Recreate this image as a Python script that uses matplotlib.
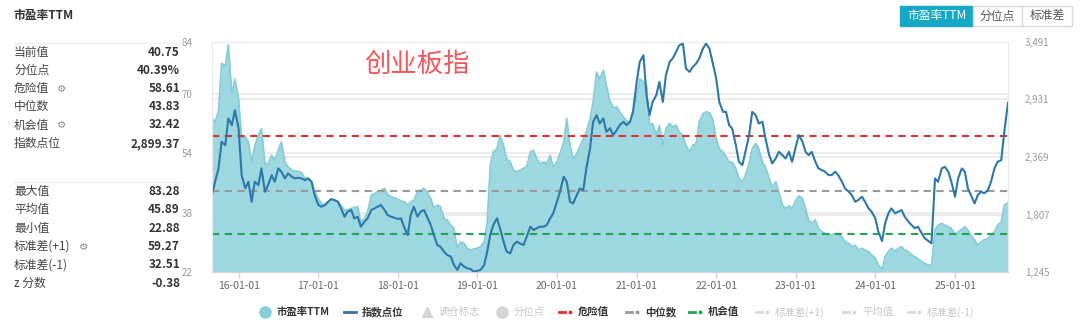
import pandas as pd
import matplotlib
matplotlib.use('Agg')
import matplotlib.pyplot as plt
import matplotlib.dates as mdates
import matplotlib.transforms as mtransforms
from matplotlib.patches import Rectangle
from matplotlib.ticker import FixedLocator, FuncFormatter

plt.rcParams['font.family'] = ['Noto Sans CJK SC', 'DejaVu Sans']

# semi-monthly samples, 2015-09 .. 2025-09
dates = pd.date_range('2015-09-01', periods=241, freq='SMS')

pe_ttm = [
    63.8, 62.3, 65.6, 78.2, 77.7, 83.3, 70.1, 74.1, 68.8, 58.0,
    58.5, 57.1, 51.7, 56.2, 58.9, 60.7, 51.3, 51.3, 53.5, 52.2,
    54.9, 57.1, 51.7, 50.4, 49.5, 49.2, 49.2, 48.9, 47.4, 47.3,
    46.4, 43.9, 41.9, 40.5, 40.3, 41.0, 41.3, 41.4, 41.0, 40.1,
    38.8,
    38.8, 39.2, 39.4, 39.7, 35.6, 36.5, 38.3, 42.8, 43.2, 43.7,
    44.1, 44.6, 43.0, 42.3, 42.1, 41.7, 41.2, 41.0, 40.1, 41.0,
    41.4, 43.7, 44.1, 44.6, 43.7, 41.9, 39.2, 40.1, 39.7, 36.5,
    36.1, 34.7, 33.8, 28.5, 30.2, 29.8, 28.5, 28.0, 28.3, 28.5,
    28.9, 30.2, 35.6, 50.9, 54.4, 55.3, 58.9, 56.2, 52.6, 51.7,
    49.5, 49.1, 49.5, 50.0, 50.4, 54.4, 54.9, 52.6, 51.3, 51.7,
    51.3, 53.5, 50.4, 51.7, 54.0, 57.1, 63.4, 56.2, 52.6, 54.0,
    55.8, 58.0, 59.8, 63.4, 67.9, 75.9, 74.1, 76.4, 72.4, 68.0,
    66.5, 66.5, 65.2, 63.8, 62.9, 62.1, 65.2, 69.7, 74.1, 73.3,
    72.4, 61.6, 62.1, 58.9, 61.6, 56.2, 60.7, 62.1, 61.2, 61.6,
    59.8, 58.9, 56.2, 54.4, 56.2, 56.7, 62.5, 64.7, 65.2, 65.0,
    63.4, 58.0, 55.3, 54.4, 53.1, 51.7, 51.7, 50.0, 47.3, 46.4,
    48.2, 51.3, 55.3, 56.7, 55.3, 51.7, 50.4, 47.3, 45.0, 46.4,
    43.7, 40.1, 39.2, 39.9, 39.2, 41.4, 42.6, 41.9, 39.2, 36.1,
    35.2, 36.1, 33.8, 32.9, 32.5, 32.0, 32.2, 32.5, 32.0, 31.6,
    30.2, 29.8, 28.9, 29.3, 28.0, 28.5, 28.0, 27.6, 26.7, 25.9,
    24.0, 22.9, 26.2, 27.6, 28.5, 27.7, 28.5, 28.9, 28.0, 27.6,
    26.7, 26.2, 25.6, 24.9, 24.4, 24.0, 23.8, 33.4, 34.7, 35.2,
    34.7, 34.3, 33.8, 32.2, 32.9, 33.6, 34.3, 33.4, 32.0, 30.7,
    29.3, 30.2, 30.7, 31.1, 32.0, 32.9, 34.7, 35.6, 40.1, 40.75,
]

index_pts = [
    1998, 2128, 2258, 2518, 2485, 2745, 2680, 2826, 2648, 2193,
    2063, 2128, 1933, 2128, 2096, 2258, 2031, 2096, 2193, 2128,
    2258, 2226, 2161, 2209, 2177, 2161, 2167, 2161, 2144, 2161,
    2128, 1998, 1901, 1885, 1901, 1933, 1959, 1950, 1933, 1868,
    1787,
    1836, 1852, 1771, 1787, 1690, 1739, 1771, 1852, 1868, 1885,
    1901, 1852, 1803, 1787, 1778, 1765, 1771, 1674, 1609, 1803,
    1885, 1787, 1836, 1852, 1787, 1706, 1609, 1511, 1495, 1446,
    1414, 1398, 1316, 1268, 1333, 1300, 1284, 1277, 1251, 1260,
    1268, 1316, 1446, 1609, 1706, 1771, 1674, 1544, 1446, 1430,
    1511, 1544, 1527, 1511, 1592, 1690, 1657, 1674, 1690, 1690,
    1706, 1771, 1820, 1933, 2031, 2177, 2128, 1933, 1917, 1998,
    2063, 2047, 2258, 2453, 2713, 2778, 2696, 2745, 2615, 2650,
    2583, 2631, 2680, 2713, 2680, 2713, 2810, 3102, 3297, 3362,
    2972, 2778, 2907, 2972, 3102, 2907, 3167, 3297, 3330, 3395,
    3459, 3476, 3232, 3200, 3248, 3281, 3330, 3427, 3476, 3427,
    3297, 3135, 2907, 2810, 2810, 2680, 2648, 2485, 2323, 2291,
    2420, 2583, 2810, 2778, 2696, 2713, 2550, 2388, 2307, 2355,
    2420, 2388, 2355, 2420, 2323, 2469, 2583, 2518, 2420, 2388,
    2420, 2323, 2258, 2242, 2226, 2193, 2193, 2226, 2193, 2128,
    2063, 2031, 1998, 1933, 1950, 1982, 1933, 1868, 1836, 1771,
    1641, 1550, 1722, 1820, 1868, 1820, 1836, 1852, 1787, 1739,
    1706, 1674, 1690, 1625, 1576, 1550, 1527, 2161, 2128, 2258,
    2274, 2226, 2128, 1982, 2161, 2258, 2226, 2063, 1998, 1917,
    1998, 2031, 2015, 2047, 2128, 2258, 2323, 2339, 2615, 2899,
]

danger, median, chance = 58.61, 43.83, 32.42
pe_ticks = [22, 38, 54, 70, 84]
idx_ticks = [1245, 1807, 2369, 2931, 3491]

stat_top_labels = ['当前值', '分位点', '危险值', '中位数', '机会值', '指数点位']
stat_top_values = ['40.75', '40.39%', '58.61', '43.83', '32.42', '2,899.37']
stat_bot_labels = ['最大值', '平均值', '最小值', '标准差(+1)', '标准差(-1)', 'z 分数']
stat_bot_values = ['83.28', '45.89', '22.88', '59.27', '32.51', '-0.38']
gear_rows = ['危险值', '机会值', '标准差(+1)']

legend_items = [
    ('市盈率TTM', 'circle', '#86d0da', True),
    ('指数点位', 'line', '#2c78a8', True),
    ('调仓标志', 'triangle', '#d4d4d4', False),
    ('分位点', 'circle', '#d4d4d4', False),
    ('危险值', 'dashdot', '#e0312e', True),
    ('中位数', 'dashdot', '#999999', True),
    ('机会值', 'dashdot', '#23a455', True),
    ('标准差(+1)', 'dashdot', '#d8d8d8', False),
    ('平均值', 'dashdot', '#d8d8d8', False),
    ('标准差(-1)', 'dashdot', '#d8d8d8', False),
]
legend_x = [265, 350, 427, 502, 566, 633, 696, 763, 850, 915]

W, H = 1080, 332
fig = plt.figure(figsize=(W / 100, H / 100), dpi=100)
fig.patch.set_facecolor('white')

L, R, T, B = 212, 1008, 42, 272.3
ax1 = fig.add_axes([L / W, 1 - B / H, (R - L) / W, (B - T) / H])
ax2 = ax1.twinx()

ax1.set_ylim(22, 84)
ax2.set_ylim(1245, 3491)
ax1.set_xlim(dates[0], dates[-1])

# grid lines for both scales, drawn behind the area
for t in pe_ticks[1:-1]:
    ax1.axhline(t, color='#ececec', lw=1.4, zorder=0)
blend = mtransforms.blended_transform_factory(ax1.transAxes, ax2.transData)
for t in idx_ticks[1:-1]:
    ax1.plot([0, 1], [t, t], transform=blend, color='#ececec', lw=1.4, zorder=0)

ax1.fill_between(dates, pe_ttm, 22, color='#9dd7df', lw=0, zorder=1)
ax1.plot(dates, pe_ttm, color='#84cdd7', lw=1.2, zorder=2)

for val, col in [(danger, '#e0312e'), (median, '#9a9a9a'), (chance, '#23a455')]:
    ax1.axhline(val, color=col, lw=1.5, ls=(0, (3.5, 2.6)), zorder=3)

ax2.plot(dates, index_pts, color='#2c78a8', lw=1.5)

ax1.yaxis.set_major_locator(FixedLocator(pe_ticks))
ax2.yaxis.set_major_locator(FixedLocator(idx_ticks))
ax2.yaxis.set_major_formatter(FuncFormatter(lambda v, p: f'{int(v):,}'))
ax1.xaxis.set_major_locator(mdates.YearLocator())
ax1.xaxis.set_major_formatter(mdates.DateFormatter('%y-%m-%d'))

ax1.tick_params(axis='y', length=0, pad=14, labelsize=7, labelcolor='#9a9a9a')
ax2.tick_params(axis='y', length=0, pad=12, labelsize=7, labelcolor='#9a9a9a')
ax1.tick_params(axis='x', length=4, width=1, color='#cfd6e0', pad=2,
                labelsize=7.5, labelcolor='#666666')

for ax in (ax1, ax2):
    for side in ['top', 'left', 'right']:
        ax.spines[side].set_color('#e8ebf0')
    ax.spines['bottom'].set_color('#cfd6e0')
ax2.patch.set_visible(False)

# overlay in pixel coordinates for panel, buttons, legend
ov = fig.add_axes([0, 0, 1, 1], zorder=10)
ov.set_xlim(0, W)
ov.set_ylim(H, 0)
ov.axis('off')
ov.patch.set_visible(False)

ov.text(13, 15, '市盈率TTM', fontsize=8.5, fontweight='bold', color='#333333', va='center')
ov.text(417, 64, '创业板指', fontsize=19, color='#f5575a', ha='center', va='center')

ov.plot([14, 180], [43, 43], color='#eeeeee', lw=1)
ov.plot([14, 180], [182, 182], color='#eeeeee', lw=1)

renderer = fig.canvas.get_renderer()
rows = list(zip(stat_top_labels, stat_top_values, [52, 70, 88.5, 106.5, 125, 143.5]))
rows += list(zip(stat_bot_labels, stat_bot_values, [191.5, 209.5, 228, 246.5, 265, 283.5]))
for lab, val, y in rows:
    t = ov.text(14, y, lab, fontsize=8.5, color='#444444', va='center')
    ov.text(180, y, val, fontsize=8.5, fontweight='bold', color='#333333',
            ha='right', va='center')
    if lab in gear_rows:
        bb = t.get_window_extent(renderer)
        x_end = ov.transData.inverted().transform((bb.x1, bb.y0))[0]
        ov.text(x_end + 8, y, '⚙', fontsize=7.5, color='#8a8a8a', va='center',
                family=['DejaVu Sans'])

# top-right toggle buttons
buttons = [('市盈率TTM', 900, 73, True), ('分位点', 973, 49, False), ('标准差', 1022, 50, False)]
for lab, x0, w, on in buttons:
    ov.add_patch(Rectangle((x0, 6), w, 20, facecolor='#14a8c4' if on else 'white',
                           edgecolor='#14a8c4' if on else '#d9d9d9', lw=1))
    ov.text(x0 + w / 2, 16, lab, fontsize=8.5, color='white' if on else '#555555',
            ha='center', va='center')

# legend
ly = 312
for (lab, kind, col, on), x in zip(legend_items, legend_x):
    if kind == 'circle':
        ov.plot([x], [ly], 'o', ms=8, color=col, mec=col)
    elif kind == 'triangle':
        ov.plot([x], [ly], '^', ms=6.5, color=col, mec=col)
    elif kind == 'line':
        ov.plot([x - 6, x + 6], [ly, ly], color=col, lw=2)
    else:
        ov.plot([x - 7, x - 1], [ly, ly], color=col, lw=2)
        ov.plot([x + 4], [ly], 'o', ms=1.8, color=col)
    ov.text(x + 12, ly, lab, fontsize=7.5, va='center',
            color='#333333' if on else '#c8c8c8',
            fontweight='bold' if on else 'normal')

fig.savefig('out.png', dpi=100, facecolor='white')
